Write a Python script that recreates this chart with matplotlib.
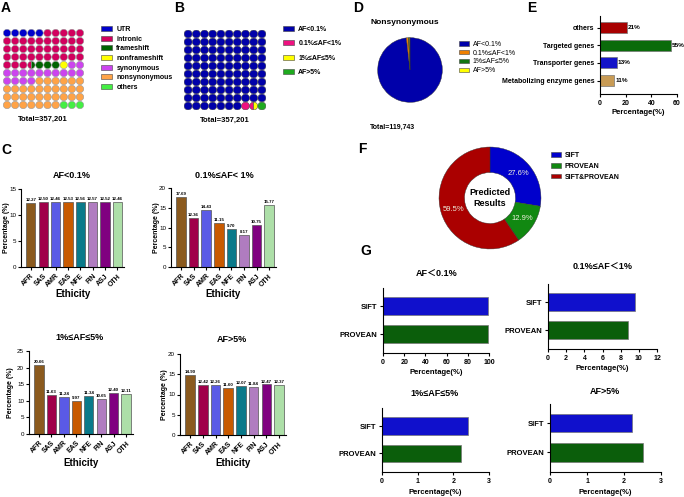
import matplotlib
matplotlib.use('Agg')
import matplotlib.pyplot as plt
from matplotlib.patches import Wedge, Patch
import numpy as np

plt.rcParams['font.family'] = ['Liberation Sans', 'Noto Sans CJK SC', 'DejaVu Sans']
plt.rcParams['axes.linewidth'] = 0.8

# ---------------- data ----------------
a_labels = ['UTR', 'intronic', 'frameshift', 'nonframeshift', 'synonymous', 'nonsynonymous', 'others']
a_units = [5, 38.5, 3.5, 1, 16, 33, 3]
a_colors = ['#0000CC', '#D2005E', '#006400', '#FFFF00', '#CC44EE', '#FFA347', '#44EE44']
a_total = 'Total=357,201'

b_labels = ['AF<0.1%', '0.1%≤AF<1%', '1%≤AF≤5%', 'AF>5%']
b_units = [97, 1.5, 0.5, 1]
b_colors = ['#0000AA', '#EE1180', '#FFFF00', '#1FAA1F']
b_total = 'Total=357,201'

d_labels = ['AF<0.1%', '0.1%≤AF<1%', '1%≤AF≤5%', 'AF>5%']
d_values = [98.2, 1.1, 0.4, 0.3]
d_colors = ['#0000AA', '#F08000', '#117711', '#FFFF00']
d_title = 'Nonsynonymous'
d_total = 'Total=119,743'

e_categories = ['Metabolizing enzyme genes', 'Transporter genes', 'Targeted genes', 'others']
e_values = [11, 13, 55, 21]
e_colors = ['#C89B55', '#1414C8', '#0B6B0B', '#A80000']

ethnicities = ['AFR', 'SAS', 'AMR', 'EAS', 'NFE', 'FIN', 'ASJ', 'OTH']
eth_colors = ['#8B5A1E', '#A0004A', '#5A5AE6', '#C85A00', '#0A7A8A', '#B07CC0', '#800080', '#ADDFA8']
c_af_lt01 = [12.27, 12.50, 12.46, 12.53, 12.56, 12.57, 12.52, 12.46]
c_af_01_1 = [17.69, 12.36, 14.43, 11.15, 9.70, 8.17, 10.75, 15.77]
c_af_1_5 = [20.66, 11.63, 11.24, 9.97, 11.34, 10.65, 12.40, 12.11]
c_af_gt5 = [14.90, 12.42, 12.26, 11.60, 12.07, 11.84, 12.47, 12.37]
c_titles = ['AF<0.1%', '0.1%≤AF< 1%', '1%≤AF≤5%', 'AF>5%']

f_labels = ['SIFT', 'PROVEAN', 'SIFT&PROVEAN']
f_values = [27.6, 12.9, 59.5]
f_colors = ['#0000CC', '#118811', '#AA0000']

g_methods = ['PROVEAN', 'SIFT']
g_colors = ['#0B5E0B', '#1010CC']
g_af_lt01 = [98.6, 98.6]
g_af_01_1 = [8.8, 9.6]
g_af_1_5 = [2.22, 2.42]
g_af_gt5 = [2.5, 2.21]
g_titles = ['AF＜0.1%', '0.1%≤AF＜1%', '1%≤AF≤5%', 'AF>5%']

# ---------------- helpers ----------------
W, H = 684, 497
fig = plt.figure(figsize=(W / 100, H / 100), dpi=100)


def axpx(l, t, r, b):
    return fig.add_axes([l / W, 1 - b / H, (r - l) / W, (b - t) / H])


def ftext(x, y, s, **kw):
    kw.setdefault('ha', 'center')
    kw.setdefault('va', 'center')
    return fig.text(x / W, 1 - y / H, s, **kw)


def prism(ax, fs=5):
    for s in ['top', 'right']:
        ax.spines[s].set_visible(False)
    for s in ['left', 'bottom']:
        ax.spines[s].set_linewidth(0.8)
    ax.tick_params(direction='out', length=2.5, width=0.8, labelsize=fs, pad=1.5)


def flegend(x, y, labels, colors, fs=5, spacing=0.3, weight='bold', hl=1.6, hh=0.7):
    handles = [Patch(facecolor=c, edgecolor='#444444', linewidth=0.4) for c in colors]
    fig.legend(handles, labels, loc='upper left', bbox_to_anchor=(x / W, 1 - y / H),
               frameon=False, labelspacing=spacing, handlelength=hl,
               handleheight=hh, handletextpad=0.6, borderpad=0, borderaxespad=0,
               prop={'weight': weight, 'size': fs})


def waffle(ax, units, colors, r, ec):
    bounds = np.cumsum([0] + list(units))
    for i in range(100):
        row, col = divmod(i, 10)
        start = 90.0
        for k in range(len(units)):
            lo = max(bounds[k], i)
            hi = min(bounds[k + 1], i + 1)
            if hi > lo:
                frac = hi - lo
                ax.add_patch(Wedge((col, row), r, start, start + 360 * frac,
                                   facecolor=colors[k], edgecolor=ec, linewidth=0.4))
                start += 360 * frac
    ax.set_xlim(-0.5, 9.5)
    ax.set_ylim(9.5, -0.5)
    ax.axis('off')


# panel letters
for letter, x, y in [('A', 6, 8), ('B', 179, 8), ('D', 358, 8), ('E', 532, 8),
                     ('C', 6, 150), ('F', 362, 149), ('G', 366, 251)]:
    ftext(x, y, letter, fontsize=10, weight='bold')

# ---------------- A ----------------
axA = axpx(3, 29, 84, 109)
waffle(axA, a_units, a_colors, 0.46, '#999999')
flegend(101, 26, a_labels, a_colors, fs=5, spacing=0.38)
ftext(43, 119, a_total, fontsize=5.5, weight='bold')

# ---------------- B ----------------
axB = axpx(184, 30, 266, 110)
waffle(axB, b_units, b_colors, 0.49, '#555555')
flegend(283, 26, b_labels, b_colors, fs=5, spacing=1.05)
ftext(225, 120, b_total, fontsize=5.5, weight='bold')

# ---------------- D ----------------
axD = axpx(377, 37, 443, 103)
axD.pie(d_values, colors=d_colors, startangle=90, counterclock=False,
        wedgeprops={'edgecolor': '#333333', 'linewidth': 0.3})
axD.set_xlim(-1.02, 1.02)
axD.set_ylim(-1.02, 1.02)
axD.set_aspect('equal')
ftext(405, 23, d_title, fontsize=6, weight='bold')
ftext(393, 127, d_total, fontsize=5, weight='bold')
flegend(459, 41, d_labels, d_colors, fs=5, spacing=0.25, weight='normal', hl=1.4, hh=0.6)

# ---------------- E ----------------
axE = axpx(600, 16, 677, 94)
prism(axE)
ypos = np.arange(len(e_values))
axE.barh(ypos, e_values, height=0.62, color=e_colors, edgecolor='#777777', linewidth=0.5)
for yv, v in zip(ypos, e_values):
    axE.text(v + 0.8, yv, f'{v}%', va='center', ha='left', fontsize=4.6, weight='bold')
axE.set_yticks(ypos)
axE.set_yticklabels(e_categories, fontsize=5, weight='bold')
axE.set_xlim(0, 60)
axE.set_xticks([0, 20, 40, 60])
axE.set_ylim(-0.75, 3.65)
for t in axE.get_xticklabels():
    t.set_weight('bold')
ftext(638, 113, 'Percentage(%)', fontsize=5.5, weight='bold')

# ---------------- C ----------------
c_specs = [
    (c_af_lt01, c_titles[0], (21, 189, 124, 267), 15, 7, 72, 175, 294),
    (c_af_01_1, c_titles[1], (171, 188, 276, 267), 20, 157, 224, 175, 294),
    (c_af_1_5, c_titles[2], (29, 351, 133, 434), 25, 11, 80, 338, 463),
    (c_af_gt5, c_titles[3], (180, 354, 286, 435), 20, 165, 232, 339, 463),
]
xe = np.arange(len(ethnicities))
for vals, title, box, ymax, ylx, tx, ty, exy in c_specs:
    ax = axpx(*box)
    prism(ax, fs=4.5)
    ax.tick_params(axis='y', pad=1)
    ax.bar(xe, vals, width=0.75, color=eth_colors, edgecolor='#555555', linewidth=0.5)
    for xi, v in zip(xe, vals):
        ax.text(xi, v + ymax * 0.012, f'{v:.2f}', ha='center', va='bottom', fontsize=3.2, weight='bold')
    ax.set_xlim(-0.8, 7.55)
    ax.set_ylim(0, ymax)
    ax.set_yticks(np.arange(0, ymax + 1, 5))
    ax.set_xticks(xe)
    ax.set_xticklabels(ethnicities, rotation=45, ha='right', rotation_mode='anchor',
                       fontsize=5, weight='bold')
    ftext(ylx, (box[1] + box[3]) / 2, 'Percentage (%)', rotation=90, fontsize=5, weight='bold')
    ftext(tx, ty, title, fontsize=6.5, weight='bold')
    ftext((box[0] + box[2]) / 2, exy, 'Ethicity', fontsize=7, weight='bold')

# ---------------- F ----------------
axF = axpx(437, 146, 543, 250)
wedges, _, autotexts = axF.pie(f_values, colors=f_colors, startangle=90, counterclock=False,
                               radius=1.0, autopct='%1.1f%%', pctdistance=0.74,
                               wedgeprops={'width': 0.5, 'edgecolor': '#333333', 'linewidth': 0.3},
                               textprops={'fontsize': 5.5, 'color': '#EEEEDD'})
axF.set_xlim(-1.02, 1.02)
axF.set_ylim(-1.02, 1.02)
axF.set_aspect('equal')
axF.text(0, 0, 'Predicted\nResults', ha='center', va='center', fontsize=6.5, weight='bold',
         linespacing=1.2)
flegend(551, 152, f_labels, f_colors, fs=5, spacing=0.55, hl=1.4, hh=0.6)

# ---------------- G ----------------
g_specs = [
    (g_af_lt01, g_titles[0], (383, 288, 489, 353), 100, 20, 437, 274, 373),
    (g_af_01_1, g_titles[1], (548, 284, 657, 349), 12, 2, 603, 267, 369),
    (g_af_1_5, g_titles[2], (382, 408, 489, 472), 3, 1, 435, 394, 493),
    (g_af_gt5, g_titles[3], (550, 404, 661, 472), 3, 1, 605, 391, 493),
]
yg = np.arange(len(g_methods))
for vals, title, box, xmax, step, tx, ty, xly in g_specs:
    ax = axpx(*box)
    prism(ax)
    ax.barh(yg, vals, height=0.64, color=g_colors, edgecolor='#777777', linewidth=0.5)
    ax.set_yticks(yg)
    ax.set_yticklabels(g_methods, fontsize=5.5, weight='bold')
    ax.set_xlim(0, xmax)
    ax.set_xticks(np.arange(0, xmax + step / 2, step))
    for t in ax.get_xticklabels():
        t.set_weight('bold')
    ax.set_ylim(-0.68, 1.66)
    ftext(tx, ty, title, fontsize=6.5, weight='bold')
    ftext((box[0] + box[2]) / 2, xly, 'Percentage(%)', fontsize=5.5, weight='bold')

fig.savefig('out.png', dpi=100)
